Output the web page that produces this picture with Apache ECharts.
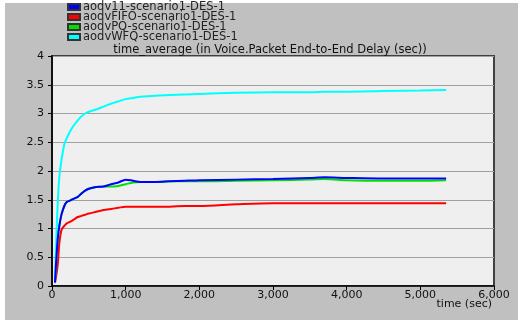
<!DOCTYPE html>
<html>
<head>
<meta charset="utf-8">
<script src="https://cdn.jsdelivr.net/npm/echarts@6/dist/echarts.min.js"></script>
<style>
html, body { margin: 0; padding: 0; background: #fff; }
#main { width: 520px; height: 320px; }
</style>
</head>
<body>
<div id="main"></div>
<script>
// 시간 축 (sec)
var times = [40, 60, 80, 100, 130, 170, 200, 250, 300, 350, 400, 450, 500, 600, 700, 800, 900, 1000,
	1100, 1200, 1400, 1600, 1800, 2000, 2500, 3000, 3500, 3700, 4000, 4500, 5000, 5350];

var aodv11 = [0.06, 0.5, 0.85, 1.05, 1.25, 1.4, 1.46, 1.49, 1.52, 1.55, 1.61, 1.66, 1.69, 1.72, 1.73, 1.77, 1.8, 1.85,
	1.83, 1.81, 1.81, 1.82, 1.83, 1.84, 1.85, 1.86, 1.88, 1.89, 1.88, 1.87, 1.87, 1.87];
var aodvFIFO = [0.05, 0.2, 0.4, 0.75, 0.98, 1.05, 1.09, 1.12, 1.16, 1.2, 1.22, 1.24, 1.26, 1.29, 1.32, 1.34, 1.36, 1.38,
	1.38, 1.38, 1.38, 1.38, 1.39, 1.39, 1.42, 1.44, 1.44, 1.44, 1.44, 1.44, 1.44, 1.44];
var aodvPQ = [0.06, 0.5, 0.85, 1.05, 1.25, 1.4, 1.46, 1.49, 1.52, 1.55, 1.61, 1.66, 1.69, 1.72, 1.73, 1.73, 1.74, 1.77,
	1.8, 1.81, 1.81, 1.82, 1.82, 1.82, 1.83, 1.84, 1.85, 1.86, 1.84, 1.83, 1.83, 1.84];
var aodvWFQ = [0.05, 0.9, 1.5, 1.9, 2.2, 2.48, 2.57, 2.7, 2.8, 2.88, 2.95, 3.0, 3.03, 3.07, 3.12, 3.17, 3.21, 3.25,
	3.27, 3.29, 3.31, 3.32, 3.33, 3.34, 3.36, 3.37, 3.37, 3.38, 3.38, 3.39, 3.40, 3.41];

var seriesNames = ['aodv11-scenario1-DES-1', 'aodvFIFO-scenario1-DES-1', 'aodvPQ-scenario1-DES-1', 'aodvWFQ-scenario1-DES-1'];
var seriesColors = ['#0000ff', '#ff0000', '#00e000', '#00ffff'];
var yTicks = [0, 0.5, 1, 1.5, 2, 2.5, 3, 3.5, 4];
var xTicks = [0, 1000, 2000, 3000, 4000, 5000, 6000];

function pairs(vals){
	var out = [];
	for (var i = 0; i < times.length; i++) {
		out.push([times[i], vals[i]]);
	}
	return out;
}

var myChart = echarts.init(document.getElementById('main'));
var font = 'DejaVu Sans, Verdana, sans-serif';
var allVals = [aodv11, aodvFIFO, aodvPQ, aodvWFQ];

var series = [];
for (var s = 0; s < seriesNames.length; s++) {
	series.push({
		name : seriesNames[s],
		type : 'line',
		data : pairs(allVals[s]),
		smooth : 0.3,
		showSymbol : false,
		z : s == 0 ? 5 : 2,
		lineStyle : { color : seriesColors[s], width : 2 },
		itemStyle : { color : seriesColors[s], borderColor : '#333', borderWidth : 1 }
	});
}

var option = {
	backgroundColor : '#ffffff',
	animation : false,
	graphic : [{
		type : 'rect',
		z : -10,
		shape : { x : 5, y : 3, width : 513, height : 317 },
		style : { fill : '#c0c0c0' }
	}, {
		type : 'text',
		x : 270,
		y : 44,
		style : {
			text : 'time_average (in Voice.Packet End-to-End Delay (sec))',
			font : '11.5px ' + font,
			fill : '#111',
			align : 'center'
		}
	}, {
		type : 'text',
		x : 492,
		y : 299,
		style : { text : 'time (sec)', font : '11px ' + font, fill : '#111', align : 'right' }
	}],
	legend : {
		data : seriesNames,
		orient : 'vertical',
		left : 67,
		top : 1,
		padding : 0,
		itemWidth : 12,
		itemHeight : 6,
		itemGap : -2,
		icon : 'rect',
		selectedMode : false,
		textStyle : { fontSize : 11.5, fontFamily : font, color : '#222', padding : [0, 0, 0, -2] }
	},
	grid : {
		left : 52,
		right : 26,
		top : 56,
		bottom : 34,
		show : true,
		backgroundColor : '#efefef',
		borderColor : '#404040',
		borderWidth : 2
	},
	xAxis : {
		type : 'value',
		min : xTicks[0],
		max : xTicks[xTicks.length - 1],
		interval : 1000,
		axisLine : { show : true, lineStyle : { color : '#000', width : 1.5 } },
		axisTick : { show : true, length : 4, lineStyle : { color : '#000' } },
		splitLine : { show : false },
		axisLabel : {
			fontSize : 11, fontFamily : font, color : '#111', margin : 4,
			formatter : function(v){ return v.toLocaleString('en-US'); }
		}
	},
	yAxis : {
		type : 'value',
		min : yTicks[0],
		max : yTicks[yTicks.length - 1],
		interval : 0.5,
		axisLine : { show : true, lineStyle : { color : '#000', width : 1.5 } },
		axisTick : { show : true, length : 4, lineStyle : { color : '#000' } },
		splitLine : { show : true, lineStyle : { color : '#a0a0a0', width : 1 } },
		axisLabel : { fontSize : 11, fontFamily : font, color : '#111', margin : 8 }
	},
	series : series
};
myChart.setOption(option);
</script>
</body>
</html>
